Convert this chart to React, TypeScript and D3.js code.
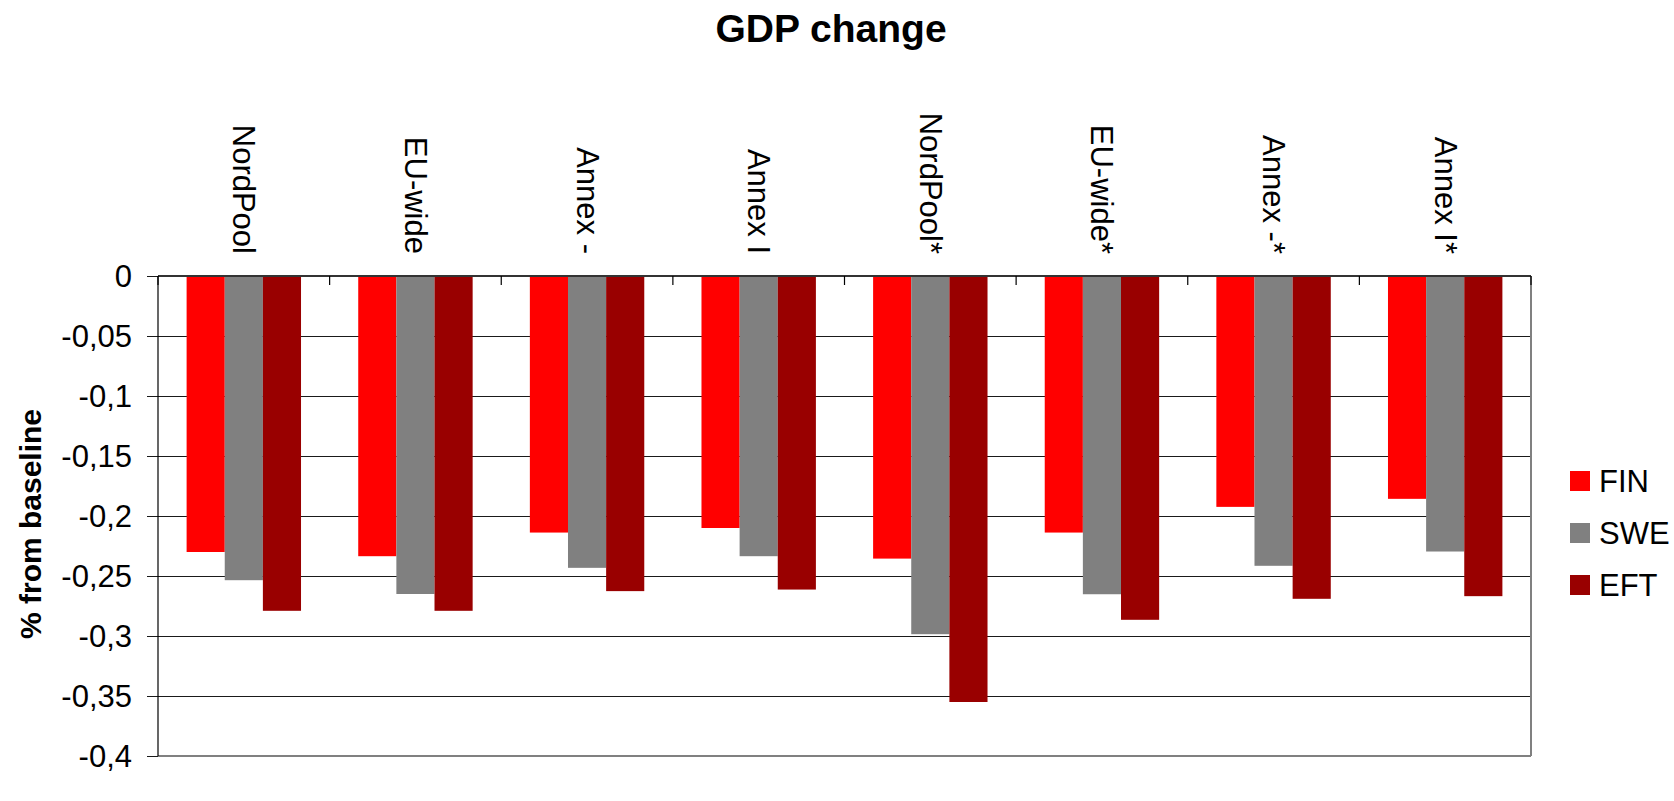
import { useMemo } from 'react';
import * as d3 from 'd3';

// Scenarios along the (top) category axis
const scenarios = [
	'NordPool',
	'EU-wide',
	'Annex -',
	'Annex I',
	'NordPool*',
	'EU-wide*',
	'Annex -*',
	'Annex I*',
];

// Series names and their values, % change from baseline
const seriesNames = ['FIN', 'SWE', 'EFT'];
const finValues = [-0.23, -0.2335, -0.2138, -0.21, -0.2355, -0.2138, -0.1924, -0.1857];
const sweValues = [-0.2535, -0.265, -0.2432, -0.2335, -0.2985, -0.2652, -0.2415, -0.2296];
const eftValues = [-0.279, -0.279, -0.2626, -0.2613, -0.355, -0.2865, -0.269, -0.2668];

const yTicks = [0, -0.05, -0.1, -0.15, -0.2, -0.25, -0.3, -0.35, -0.4];

const colors = ['#ff0000', '#808080', '#990000'];

const WIDTH = 1674;
const HEIGHT = 801;
const FONT = 'Liberation Sans, Arial, sans-serif';

/**
 * Grouped bar chart of GDP change per scenario, bars hanging down from zero.
 */
export default function App() {
	const plot = { left: 158, right: 1531, top: 276, bottom: 756 };

	const x = useMemo(
		() => d3.scaleBand<string>().domain(scenarios).range([plot.left, plot.right]).padding(0),
		[]
	);
	// inner band: Excel style gap width of 150% -> half of it on each side
	const xInner = useMemo(
		() =>
			d3
				.scaleBand<string>()
				.domain(seriesNames)
				.range([0, x.bandwidth()])
				.paddingInner(0)
				.paddingOuter(0.75),
		[x]
	);
	const y = useMemo(
		() => d3.scaleLinear().domain([0, -0.4]).range([plot.top, plot.bottom]),
		[]
	);

	const seriesValues = [finValues, sweValues, eftValues];
	// comma decimals and a plain hyphen for the minus, like the original
	const fmt = (v: number) => (v === 0 ? '0' : String(+v.toFixed(2)).replace('.', ','));

	// group boundaries for the tick marks on the category axis
	const boundaries = [...scenarios.map((s) => x(s) as number), plot.right];

	return (
		<svg
			width={WIDTH}
			height={HEIGHT}
			style={{ position: 'fixed', left: 0, top: 0, background: '#fff' }}
			fontFamily={FONT}
		>
			<text
				x={831}
				y={42}
				textAnchor="middle"
				fontSize={39}
				fontWeight="bold"
				fill="#000"
			>
				GDP change
			</text>

			{/* gridlines */}
			{yTicks.map((t) => (
				<line
					key={`g${t}`}
					x1={plot.left - 11}
					x2={plot.right}
					y1={Math.round(y(t)) + 0.5}
					y2={Math.round(y(t)) + 0.5}
					stroke="#1a1a1a"
					strokeWidth={1.2}
				/>
			))}

			{/* bars */}
			{seriesNames.map((name, si) =>
				scenarios.map((sc, ci) => {
					const v = seriesValues[si][ci];
					const bx = (x(sc) as number) + (xInner(name) as number);
					return (
						<rect
							key={`${name}-${sc}`}
							x={bx}
							y={y(0)}
							width={xInner.bandwidth()}
							height={y(v) - y(0)}
							fill={colors[si]}
						/>
					);
				})
			)}

			{/* plot area border (right / bottom) */}
			<line x1={plot.right} x2={plot.right} y1={plot.top} y2={plot.bottom} stroke="#808080" strokeWidth={2} />
			<line x1={plot.left} x2={plot.right} y1={plot.bottom} y2={plot.bottom} stroke="#808080" strokeWidth={2} />

			{/* category axis at zero */}
			<line x1={plot.left} x2={plot.right} y1={y(0)} y2={y(0)} stroke="#333" strokeWidth={2} />
			{boundaries.map((b, i) => (
				<line key={`xt${i}`} x1={b} x2={b} y1={y(0)} y2={y(0) + 9} stroke="#000" strokeWidth={1.2} />
			))}

			{/* value axis */}
			<line x1={plot.left} x2={plot.left} y1={plot.top} y2={plot.bottom} stroke="#000" strokeWidth={1.2} />
			{yTicks.map((t) => (
				<text
					key={`yl${t}`}
					x={132}
					y={y(t)}
					dy="0.36em"
					textAnchor="end"
					fontSize={31}
					fill="#000"
				>
					{fmt(t)}
				</text>
			))}

			<text
				transform="translate(30, 524) rotate(-90)"
				textAnchor="middle"
				dominantBaseline="central"
				fontSize={30}
				fontWeight="bold"
				fill="#000"
			>
				% from baseline
			</text>

			{/* category labels, rotated to read top to bottom */}
			{scenarios.map((sc) => (
				<text
					key={`cl${sc}`}
					transform={`translate(${(x(sc) as number) + x.bandwidth() / 2}, 254) rotate(90)`}
					textAnchor="end"
					dominantBaseline="central"
					fontSize={31}
					fill="#000"
				>
					{sc}
				</text>
			))}

			{/* legend */}
			{seriesNames.map((name, i) => (
				<g key={`lg${name}`} transform={`translate(1570, ${481 + i * 52})`}>
					<rect x={0} y={-10} width={20} height={20} fill={colors[i]} />
					<text x={29} y={0} dy="0.36em" fontSize={31} fill="#000">
						{name}
					</text>
				</g>
			))}
		</svg>
	);
}
